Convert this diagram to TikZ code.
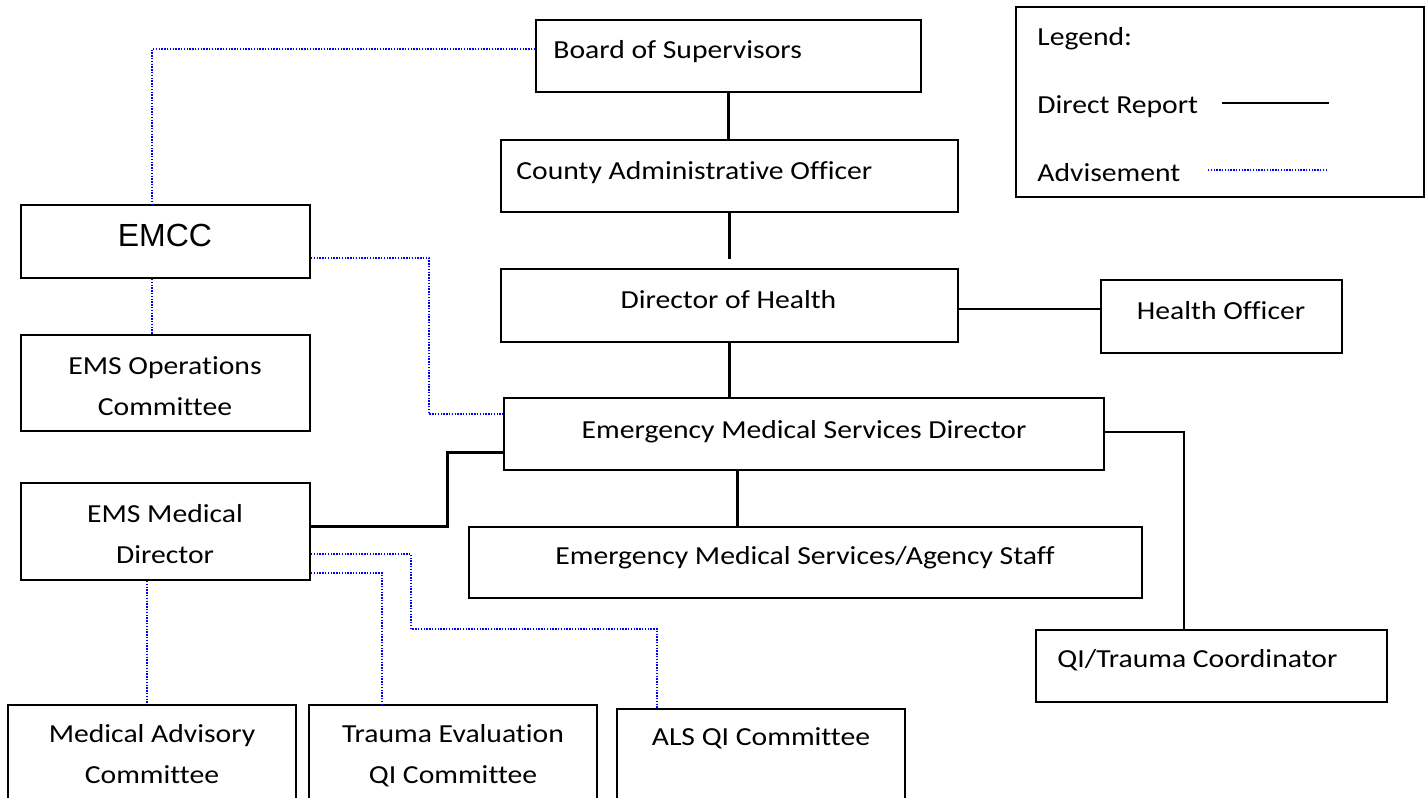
\documentclass[tikz,border=0pt]{standalone}
\usepackage{fontspec}
\setmainfont[FakeStretch=1.14,Ligatures=NoCommon]{Carlito}
\newfontfamily\arialf{Liberation Sans}
\usetikzlibrary{fit,calc}
\begin{document}
\begin{tikzpicture}[x=0.5pt,y=-0.5pt,
  box/.style={draw=black, line width=0.9pt, inner sep=0pt},
  txt/.style={inner sep=0pt, font=\fontsize{13pt}{20.5pt}\selectfont},
  direct/.style={draw=black, line width=1.2pt},
  thickdirect/.style={draw=black, line width=1.5pt},
  advise/.style={draw=blue, line width=1pt, dash pattern=on 0.7pt off 0.7pt},
]
\clip (0,0) rectangle (1426,798);
\fill[white] (0,0) rectangle (1426,798);

% boxes
\node[box, fit={(536,20) (921,92)}] (bos) {};
\node[box, fit={(501,140) (958,212)}] (cao) {};
\node[box, fit={(501,269) (958,342)}] (doh) {};
\node[box, fit={(1101,280) (1342,353)}] (ho) {};
\node[box, fit={(504,398) (1104,470)}] (emsd) {};
\node[box, fit={(469,527) (1142,598)}] (staff) {};
\node[box, fit={(1036,630) (1387,702)}] (qi) {};
\node[box, fit={(21,205) (310,278)}] (emcc) {};
\node[box, fit={(21,335) (310,431)}] (ops) {};
\node[box, fit={(21,483) (310,580)}] (emd) {};
\node[box, fit={(8,705) (296,830)}] (mac) {};
\node[box, fit={(309,705) (597,830)}] (tec) {};
\node[box, fit={(617,709) (905,830)}] (als) {};
\node[box, fit={(1016,7) (1424,197)}] (legend) {};

% texts
\node[txt, anchor=base west] (bost) at (553,58) {Board of Supervisors};
\node[txt, anchor=base west] (caot) at (516,179) {County Administrative Officer};
\node[txt, anchor=base] (doht) at (728.5,308) {Director of Health};
\node[txt, anchor=base] (hot) at (1221,319) {Health Officer};
\node[txt, anchor=base] (emsdt) at (804,438) {Emergency Medical Services Director};
\node[txt, anchor=base] (stafft) at (805,564) {Emergency Medical Services/Agency Staff};
\node[txt, anchor=base west] (qit) at (1057,667) {QI/Trauma Coordinator};
\node[inner sep=0pt, font=\arialf\fontsize{16pt}{19pt}\selectfont, anchor=base] (emcct) at (165,246) {EMCC};
\node[txt, align=center, anchor=base] (opst) at (165,415) {EMS Operations\\Committee};
\node[txt, align=center, anchor=base] (emdt) at (165,563) {EMS Medical\\Director};
\node[txt, align=center, anchor=base] (mact) at (152,783) {Medical Advisory\\Committee};
\node[txt, align=center, anchor=base] (tect) at (453,783) {Trauma Evaluation\\QI Committee};
\node[txt, anchor=base] (alst) at (761,745) {ALS QI Committee};
\node[txt, anchor=base west] (legt) at (1037,45) {Legend:};
\node[txt, anchor=base west] (drt) at (1037,113) {Direct Report};
\node[txt, anchor=base west] (adt) at (1037,181) {Advisement};

% legend samples
\coordinate (dr1) at (1222,103);
\coordinate (dr2) at (1329,103);
\coordinate (ad1) at (1208,170);
\coordinate (ad2) at (1326,170);
\draw[direct, line width=1pt] (dr1) -- (dr2);
\draw[advise] (ad1) -- (ad2);

% direct reports
\draw[direct] (bos.south) -- (bos.south |- cao.north);
\draw[direct, shorten >=4.5pt] (cao.south) -- (cao.south |- doh.north);
\draw[direct] (doh.south) -- (doh.south |- emsd.north);
\draw[direct, line width=1pt] (doh.east |- 0,309) -- (ho.west |- 0,309);
\draw[thickdirect] (emsd.south -| 737,0) -- (staff.north -| 737,0);
\draw[direct] (emsd.east |- 0,432) -| (qi.north -| 1184,0);
\draw[thickdirect] (emd.east |- 0,526) -| (447,452) -- (emsd.west |- 0,452);

% advisement
\draw[advise] (bos.west |- 0,49) -| (emcc.north -| 152,0);
\draw[advise] (emcc.south -| 152,0) -- (ops.north -| 152,0);
\draw[advise] (emcc.east |- 0,258) -| (429,414) -- (emsd.west |- 0,414);
\draw[advise] (emd.east |- 0,554) -| (411,629) -| (als.north -| 657,0);
\draw[advise] (emd.east |- 0,573) -| (tec.north -| 382,0);
\draw[advise] (emd.south -| 147,0) -- (mac.north -| 147,0);
\end{tikzpicture}
\end{document}
